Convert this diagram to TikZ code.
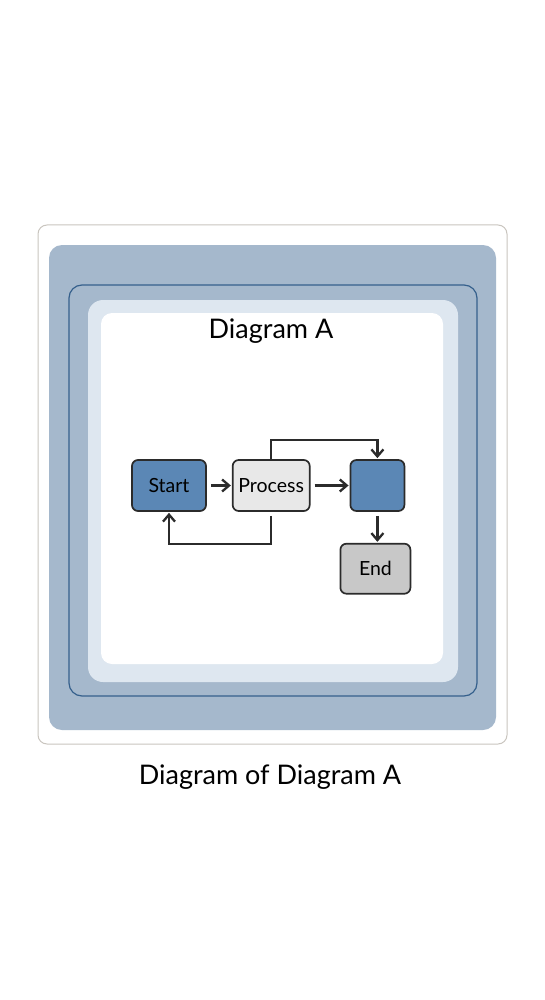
\documentclass[tikz,border=0pt]{standalone}
\usepackage{fontspec}
\setmainfont{Lato}
\usetikzlibrary{positioning,arrows.meta}
\definecolor{cardline}{HTML}{C9C5BF}
\definecolor{layerblue}{HTML}{A5B8CC}
\definecolor{rimblue}{HTML}{35608C}
\definecolor{layerlight}{HTML}{DEE7F0}
\definecolor{boxblue}{HTML}{5B87B5}
\definecolor{boxpale}{HTML}{E8E8E8}
\definecolor{boxgray}{HTML}{C8C8C8}
\definecolor{boxline}{HTML}{2B2B2B}

\begin{document}
\begin{tikzpicture}[
    x=1pt, y=-1pt,
    font=\fontsize{19.5}{22}\selectfont,
    box/.style={draw=boxline, line width=1.7pt, rounded corners=6pt, minimum height=51pt, inner sep=0pt},
    arr/.style={-{Straight Barb[length=7pt, width=12pt]}, line width=2.3pt, boxline, shorten <=4pt, shorten >=1pt}
  ]
    \useasboundingbox (0,0) rectangle (545,1000);
    % frame layers
    \draw[cardline, fill=white, line width=1pt, rounded corners=9pt] (38,225) rectangle (507,744);
    \fill[layerblue, rounded corners=13pt] (49,245) rectangle (496,730);
    \draw[rimblue, line width=1.2pt, rounded corners=13pt] (69,285) rectangle (477,696);
    \fill[layerlight, rounded corners=15pt] (88,300) rectangle (458,682);
    \fill[white, rounded corners=11pt] (101,313) rectangle (443,664);
    \node[font=\fontsize{27}{30}\selectfont] (title) at (271,331) {Diagram A};
    % flow
    \node[box, fill=boxblue, minimum width=74pt] (start) at (169,485.5) {Start};
    \node[box, fill=boxpale, minimum width=77pt, right=25pt of start] (proc) {Process};
    \node[box, fill=boxblue, minimum width=54pt, right=39pt of proc] (blk) {};
    \node[box, fill=boxgray, minimum width=70pt, minimum height=50pt, below=31pt of blk, xshift=-2pt] (end) {End};
    \draw[arr] (start) -- (proc);
    \draw[arr] (proc) -- (blk);
    \draw[arr, shorten <=0pt] (proc.north) -- ++(0,-19) -| (blk.north);
    \draw[arr] (proc.south) -- ++(0,32) -| (start.south);
    \draw[arr] (blk.south) -- (blk.south |- end.north);
    \node[font=\fontsize{27}{30}\selectfont] (caption) at (270,777) {Diagram of Diagram A};
  \end{tikzpicture}
\end{document}
